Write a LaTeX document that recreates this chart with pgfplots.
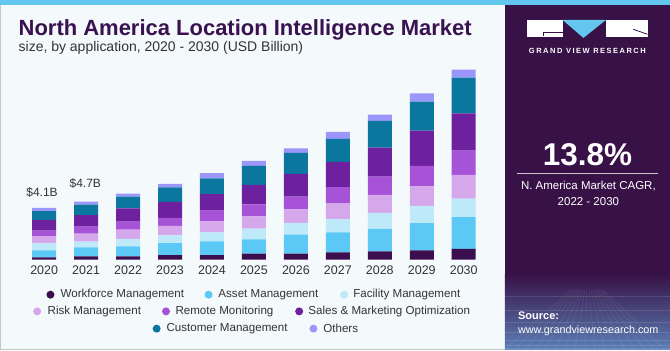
\documentclass[border=0pt]{standalone}
\usepackage{fontspec}
\setmainfont{Liberation Sans}
\usepackage{pgfplots}
\pgfplotsset{compat=1.18}
\definecolor{bg}{HTML}{F4F9FC}
\definecolor{topblue}{HTML}{62C6EE}
\definecolor{panel}{HTML}{381247}
\definecolor{panelblue}{HTML}{5B7FB5}
\definecolor{titlecol}{HTML}{3A1250}
\definecolor{txt}{HTML}{333333}
\definecolor{cwf}{HTML}{3B0F4F}
\definecolor{cas}{HTML}{5BC8F5}
\definecolor{cfa}{HTML}{BDE9F9}
\definecolor{cri}{HTML}{D5A8EC}
\definecolor{cre}{HTML}{A653D8}
\definecolor{csa}{HTML}{6E219F}
\definecolor{ccu}{HTML}{0B779E}
\definecolor{cot}{HTML}{9B96FA}
\begin{document}
\begin{tikzpicture}[x=1pt,y=1pt]
% background
\fill[bg] (0,0) rectangle (670,350);
\draw[black!22, line width=1pt] (0.5,0) -- (0.5,345);
\draw[black!22, line width=1pt] (0,0.5) -- (505,0.5);
% right panel
\fill[panel] (505,0) rectangle (670,345);
\shade[top color=panel, bottom color=panelblue] (505,0) rectangle (670,75);
\begin{scope}[white, opacity=0.12, line width=0.4pt]
\foreach \i in {0,...,16} {\draw (505+\i*10,0) -- (587+\i*2-16,60);}
\foreach \j in {0,...,7} {\draw (505,\j*\j*1.1) -- (670,\j*\j*1.1);}
\end{scope}
\fill[topblue] (0,345) rectangle (670,350);
% logo
\fill[white] (526.7,313) rectangle (562.7,330);
\fill[white] (606,313) rectangle (647.7,330);
\fill[topblue] (562.7,330) -- (606,330) -- (583.5,312) -- cycle;
\draw[panel, line width=0.8pt] (562.7,318) -- (543,318) -- (543,313.5);
\draw[panel, line width=0.8pt] (633.3,320.7) -- (647.7,315.7);
\node[anchor=center, text=white, font=\fontsize{7.5}{9}\selectfont\bfseries\addfontfeature{LetterSpace=20}] at (587.5,299.3) {GRAND VIEW RESEARCH};
% CAGR
\node[anchor=base, text=white, font=\fontsize{31.5}{34}\selectfont\bfseries] at (587.5,184) {13.8\%};
\draw[white!75!panel, line width=1pt] (517,176.7) -- (658,176.7);
\node[anchor=base, text=white, font=\fontsize{11.5}{13}\selectfont] at (588.5,160) {N. America Market CAGR,};
\node[anchor=base, text=white, font=\fontsize{11.5}{13}\selectfont] at (588.5,144.5) {2022 - 2030};
\node[anchor=base west, inner sep=0, text=white, font=\fontsize{11}{13}\selectfont\bfseries] at (518,30) {Source:};
\node[anchor=base west, inner sep=0, text=white, font=\fontsize{10.8}{13}\selectfont] at (518,16) {www.grandviewresearch.com};
% titles
\node[anchor=base west, inner sep=0, text=titlecol, font=\fontsize{22}{26}\selectfont\bfseries] at (18,314) {North America Location Intelligence Market};
\node[anchor=base west, inner sep=0, text=txt, font=\fontsize{14}{16}\selectfont] at (18,298) {size, by application, 2020 - 2030 (USD Billion)};
% chart
\begin{axis}[
  at={(22.7pt,90pt)}, anchor=south west,
  scale only axis, width=462pt, height=200pt,
  xmin=-0.5, xmax=10.5, ymin=0, ymax=15.9,
  ybar stacked, bar width=24pt,
  axis line style={draw=none}, major tick length=0pt,
  ytick=\empty,
  xtick={0,...,10},
  xticklabels={2020,2021,2022,2023,2024,2025,2026,2027,2028,2029,2030},
  xticklabel style={anchor=center, yshift=-10pt, text=txt, font=\fontsize{12.5}{14}\selectfont},
  clip=false,
]
\addplot[fill=cwf, draw=none] coordinates {(0,0.19) (1,0.27) (2,0.27) (3,0.37) (4,0.37) (5,0.48) (6,0.48) (7,0.58) (8,0.66) (9,0.74) (10,0.87)};
\addplot[fill=cas, draw=none] coordinates {(0,0.56) (1,0.72) (2,0.80) (3,0.95) (4,1.09) (5,1.14) (6,1.51) (7,1.59) (8,1.80) (9,2.17) (10,2.52)};
\addplot[fill=cfa, draw=none] coordinates {(0,0.56) (1,0.45) (2,0.58) (3,0.61) (4,0.72) (5,0.85) (6,0.95) (7,1.06) (8,1.27) (9,1.38) (10,1.48)};
\addplot[fill=cri, draw=none] coordinates {(0,0.56) (1,0.64) (2,0.74) (3,0.77) (4,0.87) (5,0.98) (6,1.06) (7,1.27) (8,1.43) (9,1.54) (10,1.88)};
\addplot[fill=cre, draw=none] coordinates {(0,0.45) (1,0.56) (2,0.64) (3,0.64) (4,0.85) (5,0.95) (6,1.03) (7,1.27) (8,1.46) (9,1.64) (10,1.93)};
\addplot[fill=csa, draw=none] coordinates {(0,0.85) (1,0.90) (2,1.06) (3,1.27) (4,1.33) (5,1.56) (6,1.80) (7,2.01) (8,2.31) (9,2.81) (10,2.97)};
\addplot[fill=ccu, draw=none] coordinates {(0,0.69) (1,0.85) (2,0.93) (3,1.14) (4,1.25) (5,1.51) (6,1.67) (7,1.83) (8,2.12) (9,2.31) (10,2.84)};
\addplot[fill=cot, draw=none] coordinates {(0,0.26) (1,0.24) (2,0.24) (3,0.29) (4,0.42) (5,0.40) (6,0.37) (7,0.56) (8,0.50) (9,0.64) (10,0.64)};
\node[anchor=center, text=txt, font=\fontsize{12}{14}\selectfont] at (axis cs:-0.05,4.12) [yshift=15.6pt] {\$4.1B};
\node[anchor=center, text=txt, font=\fontsize{12}{14}\selectfont] at (axis cs:0.98,4.63) [yshift=18pt] {\$4.7B};
\end{axis}
% legend
\begin{scope}[font=\fontsize{11.6}{13}\selectfont, text=txt]
\fill[cwf] (50,55) circle (4); \node[anchor=west, inner sep=0] at (60,55) {Workforce Management};
\fill[cas] (208.3,55) circle (4); \node[anchor=west, inner sep=0] at (218,55) {Asset Management};
\fill[cfa] (344,55) circle (4); \node[anchor=west, inner sep=0] at (353,55) {Facility Management};
\fill[cri] (36.7,38.3) circle (4); \node[anchor=west, inner sep=0] at (47,38.3) {Risk Management};
\fill[cre] (165.7,38.3) circle (4); \node[anchor=west, inner sep=0] at (175,38.3) {Remote Monitoring};
\fill[csa] (299,38.3) circle (4); \node[anchor=west, inner sep=0] at (308,38.3) {Sales \& Marketing Optimization};
\fill[ccu] (156.3,21) circle (4); \node[anchor=west, inner sep=0] at (166,21) {Customer Management};
\fill[cot] (313.3,21) circle (4); \node[anchor=west, inner sep=0] at (323,21) {Others};
\end{scope}
\end{tikzpicture}
\end{document}
